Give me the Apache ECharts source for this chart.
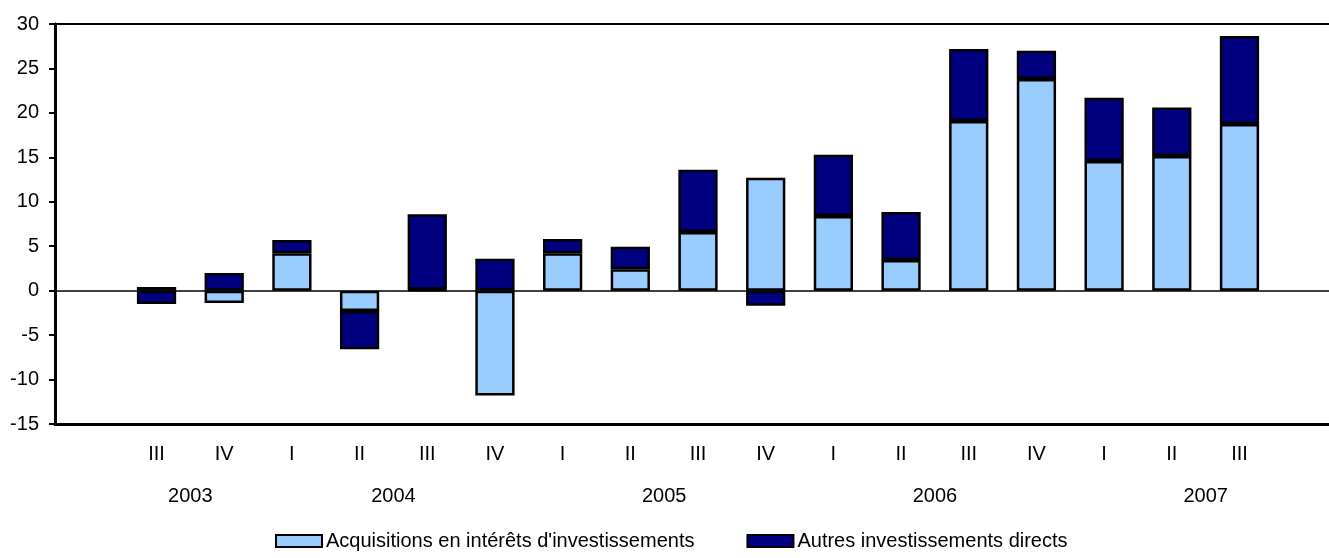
<!DOCTYPE html>
<html>
<head>
<meta charset="utf-8">
<script src="https://cdn.jsdelivr.net/npm/echarts@6/dist/echarts.min.js"></script>
<style>
  html, body { margin: 0; padding: 0; background: #fff; }
  #chart { width: 1329px; height: 558px; }
</style>
</head>
<body>
<div id="chart"></div>
<script>
// trimestres (une case vide avant 2003 III et après 2007 III)
var quarters = ['', 'III', 'IV', 'I', 'II', 'III', 'IV', 'I', 'II', 'III', 'IV', 'I', 'II', 'III', 'IV', 'I', 'II', 'III', ''];
// acquisitions en intérêts d'investissements
var acquisitions = [null, 0.4, -1.4, 4.2, -2.3, 0.1, -11.8, 4.2, 2.4, 6.6, 12.7, 8.4, 3.45, 19.1, 23.8, 14.6, 15.15, 18.75, null];
// autres investissements directs
var autres = [null, -1.5, 2.0, 1.5, -4.3, 8.5, 3.6, 1.6, 2.55, 7.0, -1.7, 6.9, 5.4, 8.1, 3.2, 7.1, 5.45, 9.9, null];
// années, placées sur les limites entre trimestres (demi-cases)
var yearLabels = {4: '2003', 10: '2004', 18: '2005', 26: '2006', 34: '2007'};
var yearSlots = [];
for (var j = 0; j <= quarters.length * 2; j++) {
  yearSlots.push(yearLabels[j] || '');
}

var font = "'Liberation Sans', Arial, sans-serif";
var chart = echarts.init(document.getElementById('chart'));

var option = {
  animation: false,
  textStyle: { fontFamily: font },
  grid: {
    left: 55,
    top: 24,
    height: 400,
    width: 1286, // le cadre continue hors de l'image à droite
    outerBoundsMode: 'none',
    containLabel: false,
    show: true,
    borderColor: '#000',
    borderWidth: 2,
    backgroundColor: 'transparent'
  },
  legend: {
    bottom: 2,
    left: 270,
    icon: 'rect',
    itemWidth: 46,
    itemHeight: 12,
    itemGap: 52,
    textStyle: { color: '#000', fontSize: 20, fontFamily: font, padding: [0, 0, 0, -1] },
    data: ["Acquisitions en intérêts d'investissements", 'Autres investissements directs']
  },
  xAxis: [{
    type: 'category',
    data: quarters,
    position: 'bottom',
    axisLine: { show: true, onZero: false, lineStyle: { color: '#000', width: 3 } },
    axisTick: { show: false },
    axisLabel: { color: '#000', fontSize: 20, fontFamily: font, margin: 20, interval: 0 },
    splitLine: { show: false }
  }, {
    type: 'category',
    data: yearSlots,
    position: 'bottom',
    boundaryGap: false,
    axisLine: { show: false, onZero: false },
    axisTick: { show: false },
    axisLabel: { color: '#000', fontSize: 20, fontFamily: font, margin: 62, interval: 0 },
    splitLine: { show: false }
  }],
  yAxis: {
    type: 'value',
    min: -15,
    max: 30,
    interval: 5,
    axisLine: { show: true, lineStyle: { color: '#000', width: 3 } },
    axisTick: { show: true, inside: false, length: 6, lineStyle: { color: '#000', width: 2 } },
    axisLabel: { color: '#000', fontSize: 20, fontFamily: font, margin: 16 },
    splitLine: { show: false }
  },
  series: [{
    name: "Acquisitions en intérêts d'investissements",
    type: 'bar',
    stack: 'total',
    barWidth: '58%',
    data: acquisitions,
    itemStyle: { color: '#99CCFF', borderColor: '#000', borderWidth: 2.5 },
    markLine: {
      silent: true,
      symbol: 'none',
      label: { show: false },
      lineStyle: { color: '#000', width: 1.5, type: 'solid' },
      data: [{ yAxis: 0 }]
    }
  }, {
    name: 'Autres investissements directs',
    type: 'bar',
    stack: 'total',
    barWidth: '58%',
    data: autres,
    itemStyle: { color: '#000080', borderColor: '#000', borderWidth: 2.5 }
  }]
};

chart.setOption(option);
</script>
</body>
</html>
